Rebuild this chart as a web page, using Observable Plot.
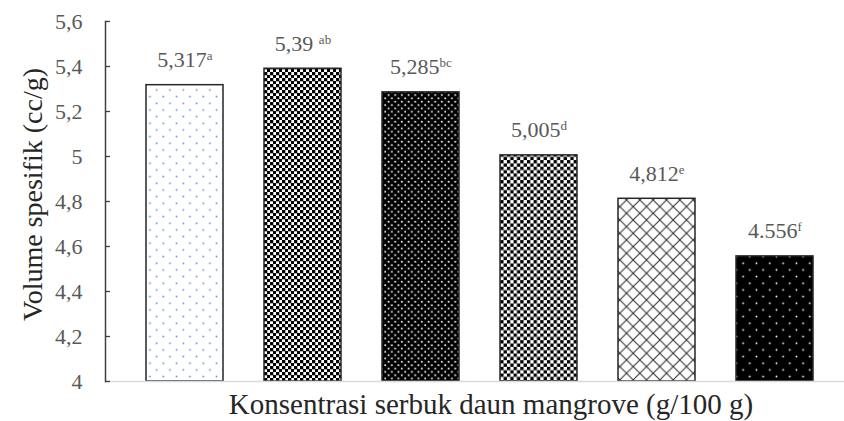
<!DOCTYPE html>
<html>
<head>
<meta charset="utf-8">
<script src="https://cdn.jsdelivr.net/npm/d3@7"></script>
<script src="https://cdn.jsdelivr.net/npm/@observablehq/plot@0.6"></script>
<style>
  body { margin: 0; background: #fff; }
  #chart svg { display: block; }
</style>
</head>
<body>
<svg width="0" height="0" style="position:absolute">
  <defs>
    <pattern id="p1" patternUnits="userSpaceOnUse" width="13.33" height="13.33">
      <rect width="13.33" height="13.33" fill="#fff"/>
      <circle cx="3.3" cy="3.3" r="0.9" fill="#5b8fd6"/>
      <circle cx="10" cy="10" r="0.9" fill="#5b8fd6"/>
    </pattern>
    <pattern id="p2" patternUnits="userSpaceOnUse" width="6" height="6">
      <rect width="6" height="6" fill="#fff"/>
      <rect x="0" y="0" width="3.3" height="3.3" fill="#000"/>
      <rect x="3" y="3" width="3.3" height="3.3" fill="#000"/>
    </pattern>
    <pattern id="p3" patternUnits="userSpaceOnUse" width="6.67" height="6.67">
      <rect width="6.67" height="6.67" fill="#000"/>
      <circle cx="1.67" cy="1.67" r="0.95" fill="#fff"/>
      <circle cx="5" cy="5" r="0.95" fill="#fff"/>
    </pattern>
    <pattern id="p4" patternUnits="userSpaceOnUse" width="6.67" height="6.67">
      <rect width="6.67" height="6.67" fill="#fff"/>
      <rect x="0" y="0" width="3.33" height="3.33" fill="#000"/>
      <rect x="3.33" y="3.33" width="3.34" height="3.34" fill="#000"/>
    </pattern>
    <pattern id="p5" patternUnits="userSpaceOnUse" width="13.33" height="13.33">
      <rect width="13.33" height="13.33" fill="#fff"/>
      <path d="M-1,-1L14.33,14.33M14.33,-1L-1,14.33" stroke="#333" stroke-width="1.1" fill="none"/>
    </pattern>
    <pattern id="p6" patternUnits="userSpaceOnUse" width="13.33" height="13.33">
      <rect width="13.33" height="13.33" fill="#000"/>
      <circle cx="3.3" cy="3.3" r="0.9" fill="#fff"/>
      <circle cx="10" cy="10" r="0.9" fill="#fff"/>
    </pattern>
  </defs>
</svg>
<div id="chart"></div>
<script>
// ---- data ----
const categories = ["K0", "K1", "K2", "K3", "K4", "K5"];
const values = [5.317, 5.39, 5.285, 5.005, 4.812, 4.556];
const valueLabels = ["5,317", "5,39 ", "5,285", "5,005", "4,812", "4.556"];
const superscripts = ["a", "ab", "bc", "d", "e", "f"];
const yTicks = [4, 4.2, 4.4, 4.6, 4.8, 5, 5.2, 5.4, 5.6];
const yTickLabels = ["4", "4,2", "4,4", "4,6", "4,8", "5", "5,2", "5,4", "5,6"];
const yTitle = "Volume spesifik (cc/g)";
const xTitle = "Konsentrasi serbuk daun mangrove (g/100 g)";
const patternIds = ["p1", "p2", "p3", "p4", "p5", "p6"];

const data = categories.map((c, i) => ({cat: c, value: values[i], label: valueLabels[i], sup: superscripts[i]}));
const serif = "Liberation Serif";

const chart = Plot.plot({
  width: 844,
  height: 421,
  marginLeft: 105,
  marginRight: 0,
  marginTop: 21,
  marginBottom: 40,
  x: {domain: categories, range: [104, 855], padding: 0.35, axis: null},
  y: {domain: [4, 5.6], axis: null},
  color: {type: "ordinal", domain: categories, range: patternIds.map(id => `url(#${id})`)},
  style: {fontFamily: serif, background: "#fff"},
  marks: [
    Plot.barY(data, {x: "cat", y1: 4, y2: "value", fill: "cat", stroke: "#262626", strokeWidth: 1.5}),
    Plot.ruleY([4], {stroke: "#d9d9d9", strokeWidth: 1.5}),
    Plot.axisY({ticks: yTicks, tickSize: -5, tickPadding: 28, stroke: "#404040", strokeWidth: 1.3,
      tickFormat: d => yTickLabels[yTicks.indexOf(d)], fontSize: 22, fontFamily: serif, fill: "#595959", label: null}),
    Plot.frame({anchor: "left", stroke: "#404040", strokeWidth: 1.5}),
    Plot.text(data, {x: "cat", y: "value", text: "label", dy: -18, lineAnchor: "bottom", fontSize: 22, fontFamily: serif, fill: "#595959"}),
    Plot.text([yTitle], {frameAnchor: "left", rotate: -90, dx: -64, dy: -7, textAnchor: "middle", lineAnchor: "bottom", fontSize: 28, fontFamily: serif, fill: "#262626"}),
    Plot.text([xTitle], {frameAnchor: "bottom", dx: 16, dy: 32, textAnchor: "middle", lineAnchor: "bottom", fontSize: 29, fontFamily: serif, fill: "#262626"})
  ]
});

// superscript letters on the value labels
const labelGroup = chart.querySelectorAll('g[aria-label="text"]')[0];
labelGroup.querySelectorAll("text").forEach((t, i) => {
  const ts = document.createElementNS("http://www.w3.org/2000/svg", "tspan");
  ts.setAttribute("font-size", "13");
  ts.setAttribute("dy", "-7");
  ts.textContent = data[i].sup;
  t.appendChild(ts);
});

document.getElementById("chart").appendChild(chart);
</script>
</body>
</html>
